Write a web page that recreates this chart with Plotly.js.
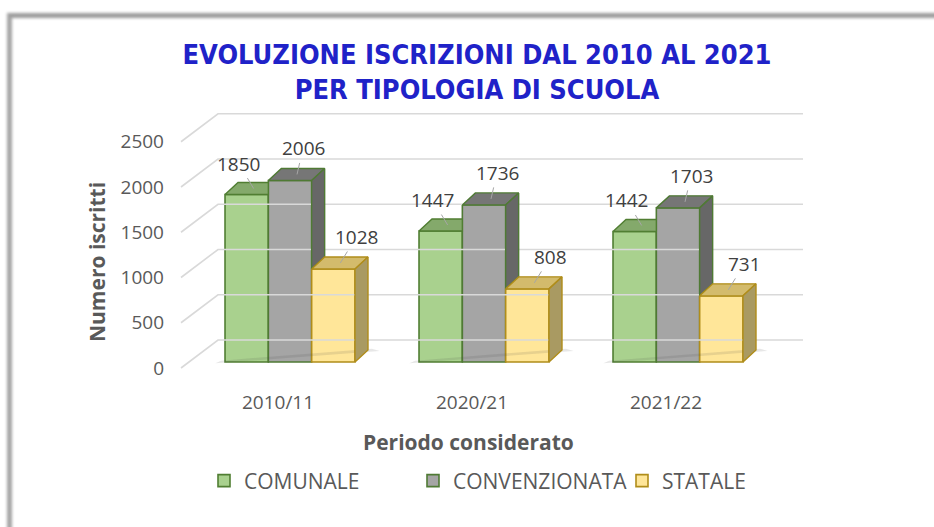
<!DOCTYPE html>
<html>
<head>
<meta charset="utf-8">
<script src="https://cdn.plot.ly/plotly-3.0.1.min.js"></script>
<style>
  html, body { margin: 0; padding: 0; background: #ffffff; }
  #wrap { position: relative; width: 934px; height: 527px; overflow: hidden; background: #ffffff; }
  #frame { position: absolute; left: 7px; top: 13px; width: 960px; height: 560px;
           border-top: 5px solid #9c9c9c; border-left: 5px solid #a4a4a4; filter: blur(1.6px); }
  #chart { position: absolute; left: 0; top: 0; width: 934px; height: 527px; }
</style>
</head>
<body>
<div id="wrap">
  <div id="frame"></div>
  <div id="chart"></div>
</div>
<script>
// ---------------- data ----------------
const categories = ['2010/11', '2020/21', '2021/22'];
const comunale = [1850, 1447, 1442];
const convenzionata = [2006, 1736, 1703];
const statale = [1028, 808, 731];
const seriesNames = ['COMUNALE', 'CONVENZIONATA', 'STATALE'];
const yTicks = [0, 500, 1000, 1500, 2000, 2500];

// ---------------- styles / geometry ----------------
const seriesValues = [comunale, convenzionata, statale];
const frontColors = ['#a9d18e', '#a5a5a5', '#ffe699'];
const edgeColors = ['#507e32', '#4f7a34', '#b08d1a'];
const topColors = ['#84a96b', '#767676', '#d3bb6c'];
const sideColors = ['#6f9357', '#676767', '#a99a62'];
const labelOffsets = [[-15, -25], [6, -26], [16, -26]]; // px, per series
const FONT = 'Open Sans, Lato, sans-serif';

const BARGAP = 0.33;
const BW = (1 - BARGAP) / 3;     // bar width in category units
const PX_X = 194;                // px per category unit
const K = 0.0905;                // px per value unit
const DX = 13 / PX_X;            // depth offset (x)
const DY = 12 / K;               // depth offset (y)
const FRONT_SHIFT = 6 / K;       // front label plane below bar base
const BACK_SHIFT = 22 / K;       // back wall above bar base
const WALL_FRONT_X = (181 - 290) / PX_X;
const WALL_BACK_X = (218 - 290) / PX_X;
const WALL_END_X = (803 - 290) / PX_X;
const XLAB_SHIFT = 12 / PX_X;

const traces = [];

// back wall gridlines + side wall diagonals
const gx = [], gy = [];
yTicks.forEach(t => {
  gx.push(WALL_FRONT_X, WALL_BACK_X, WALL_END_X, null);
  gy.push(t - FRONT_SHIFT, t + BACK_SHIFT, t + BACK_SHIFT, null);
});
traces.push({type: 'scatter', mode: 'lines', x: gx, y: gy, line: {color: '#d9d9d9', width: 1.6},
  hoverinfo: 'skip', showlegend: false});

// soft floor shadows
categories.forEach((c, i) => {
  const xL = i - 1.5 * BW, xR = i + 1.5 * BW;
  traces.push({type: 'scatter', mode: 'lines', fill: 'toself',
    x: [xL - 0.05, xR + DX + 0.06, xR + DX + 0.02, xL - 0.02, xL - 0.05],
    y: [-15, DY - 10, DY + 15, 15, -15],
    line: {width: 0}, fillcolor: 'rgba(70,70,70,0.13)', hoverinfo: 'skip', showlegend: false});
});

// front faces as real bars
seriesValues.forEach((vals, s) => {
  traces.push({type: 'bar', name: seriesNames[s], x: categories.map((c, i) => i), y: vals,
    marker: {color: frontColors[s], line: {color: edgeColors[s], width: 1.6}},
    hoverinfo: 'y'});
});

// 3D top and side faces (clipped where the next bar's front hides them)
categories.forEach((c, i) => {
  seriesValues.forEach((vals, s) => {
    const v = vals[i];
    const xl = i + (s - 1) * BW - BW / 2, xr = xl + BW;
    const next = s < seriesValues.length - 1 ? seriesValues[s + 1][i] : null;
    let tx, ty;
    if (next !== null && next >= v + DY) {
      tx = [xl, xr, xr, xl + DX, xl];
      ty = [v, v, v + DY, v + DY, v];
    } else if (next !== null && next > v) {
      const cx = xr + DX * (next - v) / DY;
      tx = [xl, xr, xr, cx, xr + DX, xl + DX, xl];
      ty = [v, v, next, next, v + DY, v + DY, v];
    } else {
      tx = [xl, xr, xr + DX, xl + DX, xl];
      ty = [v, v, v + DY, v + DY, v];
    }
    traces.push({type: 'scatter', mode: 'lines', fill: 'toself', x: tx, y: ty,
      fillcolor: topColors[s], line: {color: edgeColors[s], width: 1.4},
      hoverinfo: 'skip', showlegend: false});
    if (next === null || next < v) {
      const b = next === null ? 0 : next;
      traces.push({type: 'scatter', mode: 'lines', fill: 'toself',
        x: [xr, xr + DX, xr + DX, xr, xr],
        y: [b, b + DY, v + DY, v, b],
        fillcolor: sideColors[s], line: {color: edgeColors[s], width: 1.4},
        hoverinfo: 'skip', showlegend: false});
    }
  });
});

// data labels with leader lines
const annotations = [];
seriesValues.forEach((vals, s) => {
  vals.forEach((v, i) => {
    annotations.push({x: i + (s - 1) * BW, y: v, xref: 'x', yref: 'y', text: String(v),
      showarrow: true, arrowhead: 0, arrowwidth: 1, arrowcolor: '#a6a6a6', standoff: 0,
      ax: labelOffsets[s][0], ay: labelOffsets[s][1], xshift: 7, yshift: 6,
      font: {family: FONT, size: 19, color: '#404040'}});
  });
});
// axis titles
annotations.push({xref: 'paper', yref: 'paper', x: (97 - 174) / 640, y: (380 - 262) / 280,
  text: '<b>Numero iscritti</b>', textangle: -90, showarrow: false, xanchor: 'center', yanchor: 'middle',
  font: {family: FONT, size: 21, color: '#595959'}});
annotations.push({xref: 'paper', yref: 'paper', x: (468 - 174) / 640, y: (380 - 442) / 280,
  text: '<b>Periodo considerato</b>', showarrow: false, xanchor: 'center', yanchor: 'middle',
  font: {family: FONT, size: 21, color: '#595959'}});

const layout = {
  width: 934, height: 527,
  margin: {l: 174, r: 120, t: 100, b: 147, autoexpand: false},
  paper_bgcolor: 'rgba(0,0,0,0)', plot_bgcolor: 'rgba(0,0,0,0)',
  barmode: 'group', bargap: BARGAP, bargroupgap: 0,
  title: {text: 'EVOLUZIONE ISCRIZIONI DAL 2010 AL 2021<br>PER TIPOLOGIA DI SCUOLA',
    font: {family: 'DejaVu Sans Condensed, DejaVu Sans, sans-serif', size: 27, color: '#1f22c8', weight: 'bold'},
    x: 477 / 934, xref: 'container', xanchor: 'center', y: 1 - 64 / 527, yref: 'container', yanchor: 'top',
    automargin: false},
  xaxis: {range: [-0.598, 2.701], showgrid: false, zeroline: false, showline: false,
    tickvals: categories.map((c, i) => i - XLAB_SHIFT), ticktext: categories, ticks: '',
    ticklabelstandoff: 9, tickangle: 0, automargin: false,
    tickfont: {family: FONT, size: 19, color: '#595959'}},
  yaxis: {range: [-199, 2895], showgrid: false, zeroline: false, showline: false,
    tickvals: yTicks.map(t => t - FRONT_SHIFT), ticktext: yTicks.map(String), ticks: '',
    ticklabelstandoff: 9, automargin: false,
    tickfont: {family: FONT, size: 19, color: '#595959'}},
  legend: {orientation: 'h', xref: 'container', x: 204 / 934, xanchor: 'left',
    y: (380 - 481) / 280, yanchor: 'middle', entrywidth: 164, entrywidthmode: 'pixels',
    font: {family: FONT, size: 21, color: '#595959'}},
  annotations: annotations,
  showlegend: true
};

Plotly.newPlot('chart', traces, layout, {displayModeBar: false, staticPlot: true});
</script>
</body>
</html>
